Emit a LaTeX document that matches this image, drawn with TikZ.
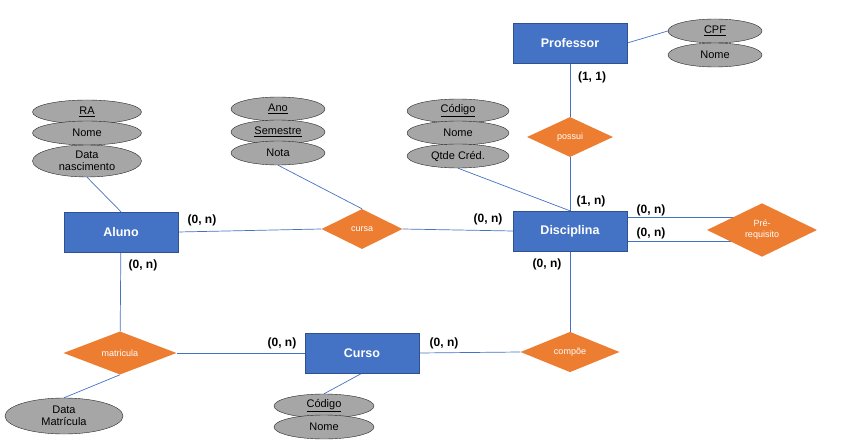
\documentclass[tikz,border=0pt]{standalone}
\usepackage{fontspec}
\setmainfont{Liberation Sans}
\usetikzlibrary{shapes.geometric,backgrounds}
\definecolor{azul}{HTML}{4472C4}
\definecolor{azulesc}{HTML}{2F528F}
\definecolor{laranja}{HTML}{ED7D31}
\definecolor{cinza}{HTML}{A6A6A6}
\begin{document}
\begin{tikzpicture}[x=1pt,y=-1pt,
        entidade/.style={draw=azulesc,fill=azul,text=white,font=\fontsize{12.5}{15}\selectfont\bfseries,minimum width=114pt,minimum height=40pt,inner sep=0pt},
        relac/.style={diamond,fill=laranja,text=white,font=\fontsize{9}{11}\selectfont,inner sep=0pt,align=center},
        atrib/.style={ellipse,draw=black!85,fill=cinza,font=\fontsize{11}{12.5}\selectfont,inner sep=0pt,minimum height=24pt,align=center},
        card/.style={font=\fontsize{12}{14}\selectfont\bfseries},
        lig/.style={azul,line width=0.7pt}]
        \useasboundingbox (0,0) rectangle (848,446);
        % entidades
        \node[entidade] (P) at (570,43){Professor};
        \node[entidade] (D) at (570,231){Disciplina};
        \node[entidade] (A) at (121,232){Aluno};
        \node[entidade] (C) at (362,353){Curso};
        % relacionamentos
        \node[relac,minimum width=86pt,minimum height=40pt] (Po) at (570,137){possui};
        \node[relac,minimum width=81pt,minimum height=40pt] (Cu) at (362,229){cursa};
        \node[relac,minimum width=110pt,minimum height=41pt] (Pr) at (762,230){Pré-\\requisito};
        \node[relac,minimum width=113pt,minimum height=39pt] (M) at (120,353){matricula};
        \node[relac,minimum width=99pt,minimum height=40pt] (Co) at (570,352){compõe};
        % atributos
        \node[atrib,minimum width=94pt] (PCpf) at (715,31){\underline{CPF}};
        \node[atrib,minimum width=94pt] (PNome) at (715,55){Nome};
        \node[atrib,minimum width=102pt] (DCod) at (458,111){\underline{Código}};
        \node[atrib,minimum width=102pt] (DNome) at (458,133){Nome};
        \node[atrib,minimum width=102pt] (DQtd) at (458,156){Qtde Créd.};
        \node[atrib,minimum width=94pt] (CuAno) at (278,109){\underline{Ano}};
        \node[atrib,minimum width=94pt] (CuSem) at (278,132){\underline{Semestre}};
        \node[atrib,minimum width=94pt] (CuNota) at (278,153){Nota};
        \node[atrib,minimum width=109pt] (ARa) at (87,112){\underline{RA}};
        \node[atrib,minimum width=109pt] (ANome) at (87,133){Nome};
        \node[atrib,minimum width=109pt,minimum height=32pt] (ANasc) at (87,161){Data\\nascimento};
        \node[atrib,minimum width=118pt,minimum height=36pt] (MData) at (64,416){Data\\Matrícula};
        \node[atrib,minimum width=100pt] (CCod) at (324,406){\underline{Código}};
        \node[atrib,minimum width=100pt] (CNome) at (324,427){Nome};
        % cardinalidades
        \node[card] (c1) at (592,77){(1, 1)};
        \node[card] (c2) at (591,201){(1, n)};
        \node[card] (c3) at (488,219){(0, n)};
        \node[card] (c4) at (547,264){(0, n)};
        \node[card] (c5) at (651,210){(0, n)};
        \node[card] (c6) at (651,233){(0, n)};
        \node[card] (c7) at (202,220){(0, n)};
        \node[card] (c8) at (143,265){(0, n)};
        \node[card] (c9) at (282,343){(0, n)};
        \node[card] (c10) at (444,343){(0, n)};
        % ligacoes
        \begin{scope}[on background layer]
            \draw[lig] (P.east) -- (PCpf.west);
            \draw[lig] (P) -- (Po);
            \draw[lig] (Po) -- (D);
            \draw[lig] (DQtd.south) -- (D.north);
            \draw[lig] ([yshift=14pt]D.east) -- ([yshift=14pt]D.east -| Pr);
            \draw[lig] ([yshift=-10pt]D.east) -- ([yshift=-10pt]D.east -| Pr);
            \draw[lig] (A.east) -- (Cu.west);
            \draw[lig] (Cu.east) -- (D.west);
            \draw[lig] (CuNota.south) -- (Cu.north);
            \draw[lig] (ANasc.south) -- (A.north);
            \draw[lig] (A) -- (M);
            \draw[lig] (M.east) -- (C.west);
            \draw[lig] (M.south) -- (MData.north);
            \draw[lig] (C.south) -- (CCod.north);
            \draw[lig] (C.east) -- (Co.west);
            \draw[lig] (D) -- (Co);
        \end{scope}
    \end{tikzpicture}
\end{document}
